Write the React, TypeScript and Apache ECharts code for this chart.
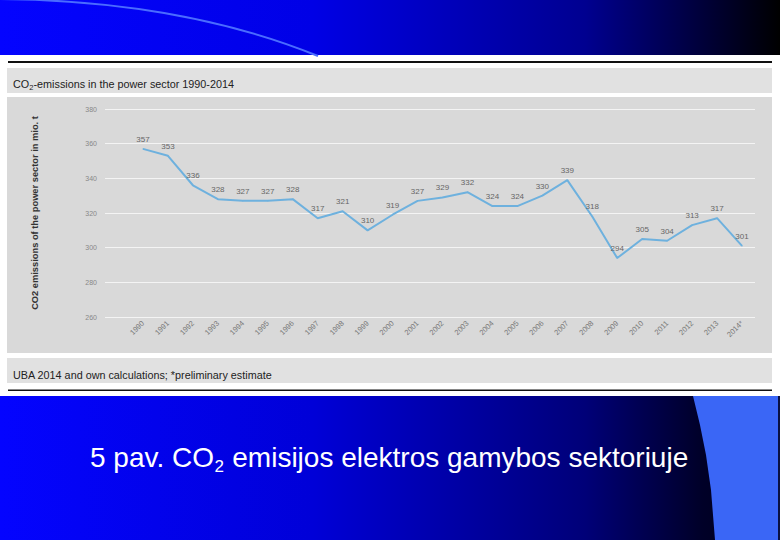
import React, { useEffect, useRef } from "react";
import * as echarts from "echarts";

const years = [
  "1990", "1991", "1992", "1993", "1994", "1995", "1996", "1997", "1998", "1999",
  "2000", "2001", "2002", "2003", "2004", "2005", "2006", "2007", "2008", "2009",
  "2010", "2011", "2012", "2013", "2014*",
];
const emissions = [
  357, 353, 336, 328, 327, 327, 328, 317, 321, 310,
  319, 327, 329, 332, 324, 324, 330, 339, 318, 294,
  305, 304, 313, 317, 301,
];
const yMin = 260;
const yMax = 380;
const yStep = 20;

const chartTitle = ["CO", "2", "-emissions in the power sector 1990-2014"];
const sourceNote = "UBA 2014 and own calculations; *preliminary estimate";
const yAxisTitle = "CO2 emissions of the power sector in mio. t";
const caption = ["5 pav. CO", "2", " emisijos elektros gamybos sektoriuje"];

const FONT = '"Liberation Sans", Arial, sans-serif';

export default function App() {
  const ref = useRef<HTMLDivElement>(null);
  useEffect(() => {
    if (!ref.current) return;
    const chart = echarts.init(ref.current, null, { renderer: "svg" });

    // light blue shape on the bottom right
    const shapePts = [
      [693, 396], [700, 425], [706, 455], [711, 490], [715, 540], [780, 540], [780, 396],
    ];

    chart.setOption({
      animation: false,
      backgroundColor: "#ffffff",
      textStyle: { fontFamily: FONT },
      grid: [
        { left: 105, width: 650, top: 109, height: 208 },
        { left: 130.5, width: 624, top: 109, height: 208 },
      ],
      xAxis: [
        { gridIndex: 0, type: "category", data: years, show: false },
        {
          gridIndex: 1,
          type: "category",
          data: years,
          boundaryGap: true,
          axisLine: { show: false },
          axisTick: { show: false },
          axisLabel: {
            rotate: 45,
            fontSize: 7.5,
            color: "#777",
            margin: 5,
            interval: 0,
            fontFamily: FONT,
          },
        },
      ],
      yAxis: [
        {
          gridIndex: 0,
          type: "value",
          min: yMin,
          max: yMax,
          interval: yStep,
          axisLine: { show: false },
          axisTick: { show: false },
          splitLine: { lineStyle: { color: "#f4f4f4", width: 1 } },
          axisLabel: { fontSize: 7, color: "#888", margin: 8, fontFamily: FONT },
          name: yAxisTitle,
          nameLocation: "middle",
          nameRotate: 90,
          nameGap: 66,
          nameTextStyle: { fontSize: 9.3, color: "#333", fontWeight: "bold", fontFamily: FONT },
        },
        {
          gridIndex: 1,
          type: "value",
          min: yMin,
          max: yMax,
          interval: yStep,
          show: false,
          splitLine: { show: false },
        },
      ],
      series: [
        {
          type: "line",
          xAxisIndex: 1,
          yAxisIndex: 1,
          data: emissions,
          symbol: "circle",
          symbolSize: 1,
          itemStyle: { color: "#6eb1de" },
          lineStyle: { color: "#6eb1de", width: 2 },
          label: {
            show: true,
            position: "top",
            distance: 5,
            fontSize: 8,
            color: "#666",
            fontFamily: FONT,
          },
          z: 5,
        },
      ],
      graphic: [
        // header
        {
          type: "rect",
          z: -10,
          shape: { x: 0, y: 0, width: 780, height: 55 },
          style: {
            fill: new echarts.graphic.LinearGradient(0, 0, 1, 0, [
              { offset: 0, color: "#0404ff" },
              { offset: 0.4, color: "#0000e6" },
              { offset: 0.75, color: "#000090" },
              { offset: 1, color: "#000000" },
            ]),
          },
        },
        {
          type: "bezierCurve",
          z: -9,
          shape: { x1: -5, y1: -1, cpx1: 180, cpy1: 0, x2: 318, y2: 56 },
          style: { stroke: "#4a6cff", lineWidth: 2, fill: "none" },
        },
        // bottom blue
        {
          type: "rect",
          z: -10,
          shape: { x: 0, y: 396, width: 780, height: 144 },
          style: {
            fill: new echarts.graphic.LinearGradient(0, 0, 1, 0, [
              { offset: 0, color: "#0404ff" },
              { offset: 0.4, color: "#0000d8" },
              { offset: 0.75, color: "#000078" },
              { offset: 0.9, color: "#000028" },
              { offset: 1, color: "#000010" },
            ]),
          },
        },
        {
          type: "polygon",
          z: -9,
          shape: { points: shapePts },
          style: { fill: "#3a66f6" },
        },
        {
          type: "rect",
          z: -8,
          shape: { x: 778, y: 396, width: 2, height: 144 },
          style: { fill: "#0a1040" },
        },
        // black rules
        {
          type: "rect",
          z: -8,
          shape: { x: 8, y: 61, width: 764, height: 2 },
          style: { fill: "#111" },
        },
        {
          type: "rect",
          z: -8,
          shape: { x: 8, y: 389.5, width: 764, height: 1.5 },
          style: { fill: "#111" },
        },
        // gray bands
        {
          type: "rect",
          z: -10,
          shape: { x: 7, y: 68, width: 765, height: 25 },
          style: { fill: "#e1e1e1" },
        },
        {
          type: "rect",
          z: -10,
          shape: { x: 7, y: 97, width: 765, height: 256 },
          style: { fill: "#d9d9d9" },
        },
        {
          type: "rect",
          z: -10,
          shape: { x: 7, y: 358, width: 765, height: 25 },
          style: { fill: "#e1e1e1" },
        },
        // title
        {
          type: "text",
          z: 10,
          x: 13,
          y: 84,
          style: { text: chartTitle[0], fill: "#222", font: `10.8px ${FONT}`, verticalAlign: "middle" },
        },
        {
          type: "text",
          z: 10,
          x: 29.2,
          y: 87.5,
          style: { text: chartTitle[1], fill: "#222", font: `7.5px ${FONT}`, verticalAlign: "middle" },
        },
        {
          type: "text",
          z: 10,
          x: 33.5,
          y: 84,
          style: { text: chartTitle[2], fill: "#222", font: `10.8px ${FONT}`, verticalAlign: "middle" },
        },
        // source
        {
          type: "text",
          z: 10,
          x: 13,
          y: 375,
          style: { text: sourceNote, fill: "#222", font: `10.8px ${FONT}`, verticalAlign: "middle" },
        },
        // caption
        {
          type: "text",
          z: 10,
          x: 90,
          y: 457,
          style: { text: caption[0], fill: "#ffffff", font: `28px ${FONT}`, verticalAlign: "middle" },
        },
        {
          type: "text",
          z: 10,
          x: 214.5,
          y: 466,
          style: { text: caption[1], fill: "#ffffff", font: `17px ${FONT}`, verticalAlign: "middle" },
        },
        {
          type: "text",
          z: 10,
          x: 224.5,
          y: 457,
          style: { text: caption[2], fill: "#ffffff", font: `28px ${FONT}`, verticalAlign: "middle" },
        },
      ],
    });
    return () => chart.dispose();
  }, []);
  return (
    <div
      ref={ref}
      style={{ position: "fixed", left: 0, top: 0, width: 780, height: 540 }}
    />
  );
}
